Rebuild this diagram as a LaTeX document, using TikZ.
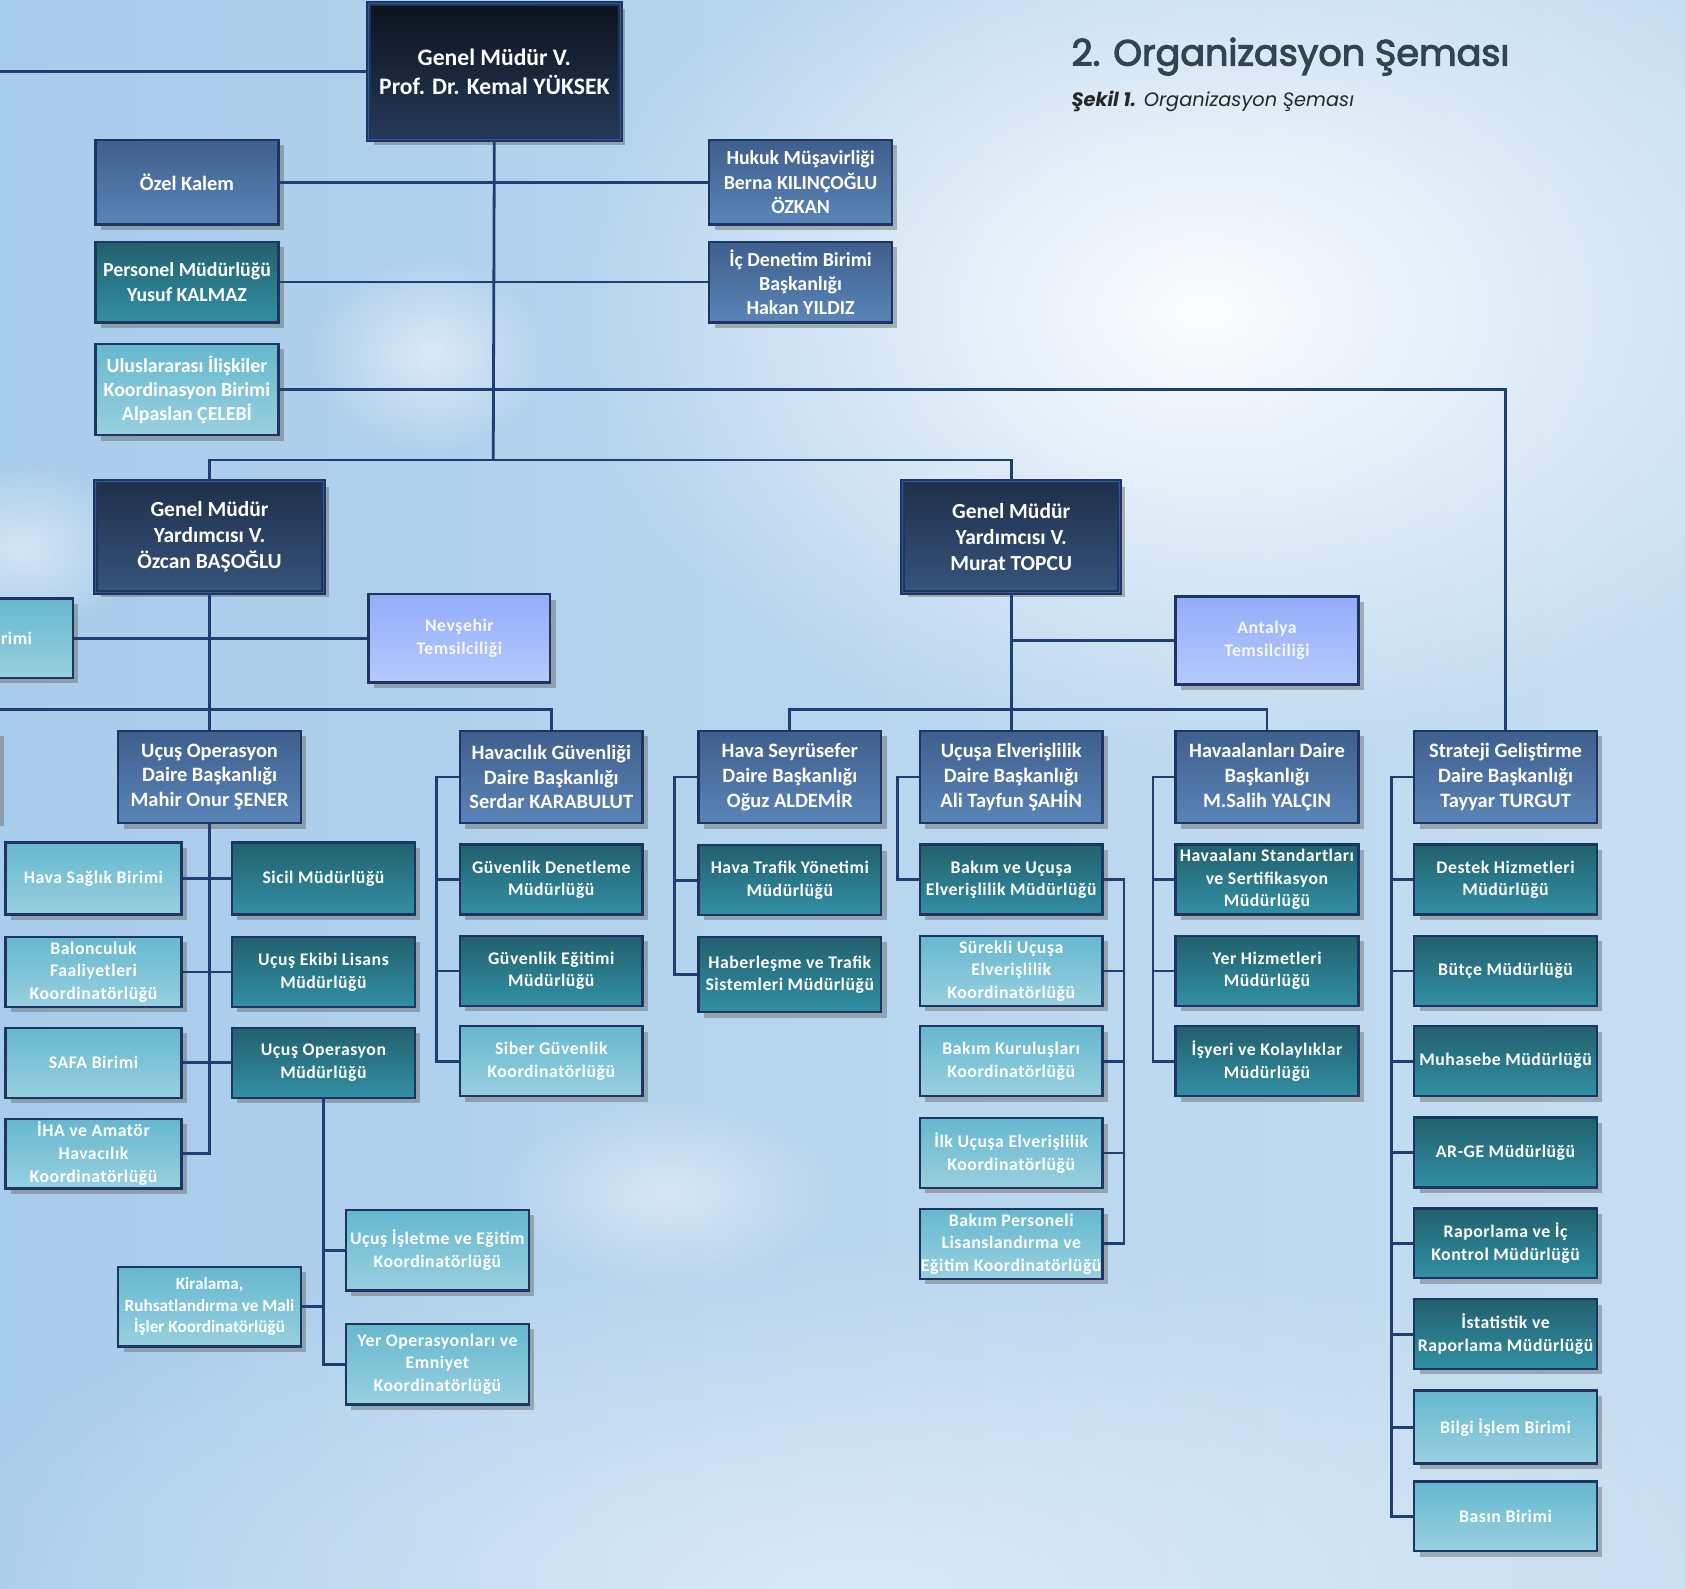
\documentclass[tikz,border=0pt]{standalone}
\usepackage{fontspec}
\setmainfont{Carlito}
\newfontfamily\baslikfont{Poppins}
\usetikzlibrary{shadows}
\usetikzlibrary{fadings}
\definecolor{gok1}{HTML}{A8CCEB}
\definecolor{gok2}{HTML}{C6DEF1}
\definecolor{hat}{HTML}{1F3F73}
\definecolor{kenar}{HTML}{1D3563}
\definecolor{mavi1}{HTML}{3F5F8D}
\definecolor{mavi2}{HTML}{5A84B8}
\definecolor{turkuaz1}{HTML}{22606E}
\definecolor{turkuaz2}{HTML}{3290A4}
\definecolor{acik1}{HTML}{66B8CE}
\definecolor{acik2}{HTML}{98D0E0}
\definecolor{lacivert1}{HTML}{1E2F4A}
\definecolor{lacivert2}{HTML}{36547C}
\definecolor{lacivertic}{HTML}{35598C}
\definecolor{lila1}{HTML}{93ACF9}
\definecolor{lila2}{HTML}{B5CAFD}
\definecolor{baslik}{HTML}{2F4652}
\tikzfading[name=bulut, inner color=transparent!0, outer color=transparent!100]
\tikzset{
  Kutu/.style={draw=kenar, line width=2.2pt, text=white, align=center, inner sep=1pt,
    minimum width=170pt, minimum height=65pt,
    font=\bfseries\fontsize{16.5}{21}\selectfont\addfontfeature{LetterSpace=3},
    drop shadow={shadow xshift=5pt, shadow yshift=-5pt, fill=black!60, opacity=.45}}, % Grundform
  MaviKutu/.style={Kutu, top color=mavi1, bottom color=mavi2, minimum height=86pt,
    font=\bfseries\fontsize{19}{23}\selectfont},% Daire Baskanliklari
  UstKutu/.style={font=\bfseries\fontsize{18.5}{22.5}\selectfont},% Kästen oben
  TurkuazKutu/.style={Kutu, top color=turkuaz1, bottom color=turkuaz2},% Müdürlükler
  AcikKutu/.style={Kutu, top color=acik1, bottom color=acik2},% Koordinatörlükler
  LacivertKutu/.style={Kutu, top color=lacivert1, bottom color=lacivert2, line width=1.8pt,
    double=lacivertic, double distance=1pt, minimum height=103pt,
    font=\bfseries\fontsize{20}{24}\selectfont},% Genel Müdür (Yardimcilari)
  LilaKutu/.style={Kutu, top color=lila1, bottom color=lila2, minimum height=82pt,
    text=white!92!lila1},% Temsilcilikler
  Hat/.style={draw=hat, line width=2.6pt}
}
\begin{document}
\begin{tikzpicture}[x=1pt, y=-1pt]
\useasboundingbox (0,0) rectangle (1568,1478);

%Hintergrund
\shade[left color=gok1, right color=gok2] (0,0) rectangle (1568,1478);
\fill[white, opacity=.95, path fading=bulut] (1120,290) ellipse [x radius=600, y radius=420];
\fill[white, opacity=.5, path fading=bulut] (780,1480) ellipse [x radius=900, y radius=330];
\fill[white, opacity=.55, path fading=bulut] (400,330) ellipse [x radius=110, y radius=90];
\fill[white, opacity=.5, path fading=bulut] (20,510) ellipse [x radius=110, y radius=80];
\fill[white, opacity=.45, path fading=bulut] (620,1110) ellipse [x radius=160, y radius=90];

%Titel
\node[anchor=base west, inner sep=0pt, text=baslik] (baslik) at (997,61)
  {\baslikfont\fontsize{34}{40}\selectfont\addfontfeature{FakeBold=3}2. Organizasyon Şeması};
\node[anchor=base west, inner sep=0pt, text=black!85] (sekil) at (997,99)
  {\baslikfont\fontsize{18}{20}\selectfont\itshape\textbf{Şekil 1.} Organizasyon Şeması};

%Kästen oben
\node[LacivertKutu, top color=black!60!lacivert1, bottom color=lacivert1!70!lacivert2,
  minimum width=234pt, minimum height=127pt, font=\bfseries\fontsize{22}{27}\selectfont]
  (gm) at (460,66.5) {Genel Müdür V.\\Prof. Dr. Kemal YÜKSEK};
\node[MaviKutu, minimum height=79pt] (ozel) at (174,169.5) {Özel Kalem};
\node[TurkuazKutu, UstKutu, minimum height=75pt] (pers) at (174,262.5) {Personel Müdürlüğü\\Yusuf KALMAZ};
\node[AcikKutu, UstKutu, minimum height=85pt]
  (ulus) at (174,362.5) {Uluslararası İlişkiler\\Koordinasyon Birimi\\Alpaslan ÇELEBİ};
\node[MaviKutu, UstKutu, minimum height=79pt]
  (hukuk) at (745,169.5) {Hukuk Müşavirliği\\Berna KILINÇOĞLU\\ÖZKAN};
\node[MaviKutu, UstKutu, minimum height=75pt]
  (icd) at (745,262.5) {İç Denetim Birimi\\Başkanlığı\\Hakan YILDIZ};

%Genel Müdür Yardimcilari
\node[LacivertKutu, minimum width=212pt] (gmy1) at (195,499.5) {Genel Müdür\\Yardımcısı V.\\Özcan BAŞOĞLU};
\node[LacivertKutu, minimum width=202pt] (gmy2) at (941,499.5) {Genel Müdür\\Yardımcısı V.\\Murat TOPCU};
\node[LilaKutu, minimum width=169pt] (nevsehir) at (427.5,594) {Nevşehir\\Temsilciliği};
\node[LilaKutu] (antalya) at (1179,596) {Antalya\\Temsilciliği};
\node[AcikKutu, minimum height=74pt, align=left, text width=166pt]
  (solkutu) at (-17,594) {\hspace*{101pt}rimi};
\node[MaviKutu, minimum height=84pt] (solkutu2) at (-86,722) {};

%Daire Baskanliklari
\node[MaviKutu] (ucusdb) at (195,723) {Uçuş Operasyon\\Daire Başkanlığı\\Mahir Onur ŞENER};
\node[MaviKutu] (havguvdb) at (513,723) {Havacılık Güvenliği\\Daire Başkanlığı\\Serdar KARABULUT};
\node[MaviKutu] (seyrdb) at (735,723) {Hava Seyrüsefer\\Daire Başkanlığı\\Oğuz ALDEMİR};
\node[MaviKutu] (elvdb) at (941,723) {Uçuşa Elverişlilik\\Daire Başkanlığı\\Ali Tayfun ŞAHİN};
\node[MaviKutu] (havaalanidb) at (1179,723) {Havaalanları Daire\\Başkanlığı\\M.Salih YALÇIN};
\node[MaviKutu] (stratejidb) at (1401,723) {Strateji Geliştirme\\Daire Başkanlığı\\Tayyar TURGUT};

%Uçus Operasyon
\node[AcikKutu, minimum width=164pt, minimum height=67pt] (havasaglik) at (87,817.5) {Hava Sağlık Birimi};
\node[AcikKutu, minimum width=164pt] (baloncuk) at (87,904.5) {Balonculuk\\Faaliyetleri\\Koordinatörlüğü};
\node[AcikKutu, minimum width=164pt] (safa) at (87,989) {SAFA Birimi};
\node[AcikKutu, minimum width=164pt] (iha) at (87,1073.5) {İHA ve Amatör\\Havacılık\\Koordinatörlüğü};
\node[TurkuazKutu, minimum height=67pt] (sicil) at (301,817.5) {Sicil Müdürlüğü};
\node[TurkuazKutu] (ekip) at (301,904.5) {Uçuş Ekibi Lisans\\Müdürlüğü};
\node[TurkuazKutu] (ucusopm) at (301,989) {Uçuş Operasyon\\Müdürlüğü};
\node[AcikKutu, minimum height=75pt] (isletme) at (407,1163.5) {Uçuş İşletme ve Eğitim\\Koordinatörlüğü};
\node[AcikKutu, minimum height=74pt, font=\bfseries\fontsize{16}{20}\selectfont]
  (kiralama) at (195,1216) {Kiralama,\\Ruhsatlandırma ve Mali\\İşler Koordinatörlüğü};
\node[AcikKutu, minimum height=75pt] (yerop) at (407,1269.5) {Yer Operasyonları ve\\Emniyet\\Koordinatörlüğü};

%Havacilik Güvenligi
\node[TurkuazKutu] (guvden) at (513,818.5) {Güvenlik Denetleme\\Müdürlüğü};
\node[TurkuazKutu] (guveg) at (513,903.5) {Güvenlik Eğitimi\\Müdürlüğü};
\node[AcikKutu] (siber) at (513,987.5) {Siber Güvenlik\\Koordinatörlüğü};

%Hava Seyrüsefer
\node[TurkuazKutu] (hty) at (735,819) {Hava Trafik Yönetimi\\Müdürlüğü};
\node[TurkuazKutu, minimum height=70pt] (haberlesme) at (735,907) {Haberleşme ve Trafik\\Sistemleri Müdürlüğü};

%Uçusa Elverislilik
\node[TurkuazKutu] (bakimelv) at (941,818.5) {Bakım ve Uçuşa\\Elverişlilik Müdürlüğü};
\node[AcikKutu] (surekli) at (941,903.5) {Sürekli Uçuşa\\Elverişlilik\\Koordinatörlüğü};
\node[AcikKutu] (kurulus) at (941,987.5) {Bakım Kuruluşları\\Koordinatörlüğü};
\node[AcikKutu] (ilk) at (941,1073) {İlk Uçuşa Elverişlilik\\Koordinatörlüğü};
\node[AcikKutu] (bakimpers) at (941,1157.5) {Bakım Personeli\\Lisanslandırma ve\\Eğitim Koordinatörlüğü};

%Havaalanlari
\node[TurkuazKutu] (standart) at (1179,818.5) {Havaalanı Standartları\\ve Sertifikasyon\\Müdürlüğü};
\node[TurkuazKutu] (yerhiz) at (1179,903.5) {Yer Hizmetleri\\Müdürlüğü};
\node[TurkuazKutu] (isyeri) at (1179,987.5) {İşyeri ve Kolaylıklar\\Müdürlüğü};

%Strateji Gelistirme
\node[TurkuazKutu] (destek) at (1401,818.5) {Destek Hizmetleri\\Müdürlüğü};
\node[TurkuazKutu] (butce) at (1401,903.5) {Bütçe Müdürlüğü};
\node[TurkuazKutu] (muhasebe) at (1401,987.5) {Muhasebe Müdürlüğü};
\node[TurkuazKutu] (arge) at (1401,1072.5) {AR-GE Müdürlüğü};
\node[TurkuazKutu] (raporlama) at (1401,1157) {Raporlama ve İç\\Kontrol Müdürlüğü};
\node[TurkuazKutu] (istatistik) at (1401,1241.5) {İstatistik ve\\Raporlama Müdürlüğü};
\node[AcikKutu, minimum height=68pt] (bilgi) at (1401,1328) {Bilgi İşlem Birimi};
\node[AcikKutu] (basin) at (1401,1411) {Basın Birimi};

%Hilfspunkte
\coordinate (solkenar) at (0,66.5);
\coordinate (sol660) at (0,660);
\coordinate (gmk) at (459,428);
\coordinate (g2k) at (941,660);
\coordinate (hgk) at (406,723);
\coordinate (sk) at (628,723);
\coordinate (ek) at (835,723);
\coordinate (ek2) at (1046,818.5);
\coordinate (hk) at (1073,723);
\coordinate (stk) at (1295,723);

%Verbindungslinien
\draw[Hat] (solkenar) -- (gm.west);
\draw[Hat] (gm.south) -- (gmk);
\draw[Hat] (ozel.east) -- (hukuk.west);
\draw[Hat] (pers.east) -- (icd.west);
\draw[Hat] (ulus.east) -| (stratejidb.north);
\draw[Hat] (gmy1.north) |- (gmk) -| (gmy2.north);

\draw[Hat] (gmy1.south) -- (ucusdb.north);
\draw[Hat] (solkutu.east) -- (nevsehir.west);
\draw[Hat] (sol660) -| (havguvdb.north);
\draw[Hat] (ucusdb.south) |- (iha.east);
\draw[Hat] (havasaglik.east) -- (sicil.west);
\draw[Hat] (baloncuk.east) -- (ekip.west);
\draw[Hat] (safa.east) -- (ucusopm.west);
\draw[Hat] (ucusopm.south) |- (yerop.west);
\draw[Hat] (isletme.west) -- (isletme.west -| ucusopm.south);
\draw[Hat] (kiralama.east) -- (kiralama.east -| ucusopm.south);
\draw[Hat] (havguvdb.west) -- (hgk) |- (siber.west);
\draw[Hat] (guvden.west) -- (guvden.west -| hgk);
\draw[Hat] (guveg.west) -- (guveg.west -| hgk);

\draw[Hat] (gmy2.south) -- (elvdb.north);
\draw[Hat] (antalya.west) -- (antalya.west -| gmy2.south);
\draw[Hat] (seyrdb.north) |- (g2k) -| (havaalanidb.north);
\draw[Hat] (seyrdb.west) -- (sk) |- (haberlesme.west);
\draw[Hat] (hty.west) -- (hty.west -| sk);
\draw[Hat] (elvdb.west) -- (ek) |- (bakimelv.west);
\draw[Hat] (bakimelv.east) -- (ek2) |- (bakimpers.east);
\foreach \k in {surekli,kurulus,ilk}
  \draw[Hat] (\k.east) -- (\k.east -| ek2);
\draw[Hat] (havaalanidb.west) -- (hk) |- (isyeri.west);
\foreach \k in {standart,yerhiz}
  \draw[Hat] (\k.west) -- (\k.west -| hk);
\draw[Hat] (stratejidb.west) -- (stk) |- (basin.west);
\foreach \k in {destek,butce,muhasebe,arge,raporlama,istatistik,bilgi}
  \draw[Hat] (\k.west) -- (\k.west -| stk);

\end{tikzpicture}
\end{document}
